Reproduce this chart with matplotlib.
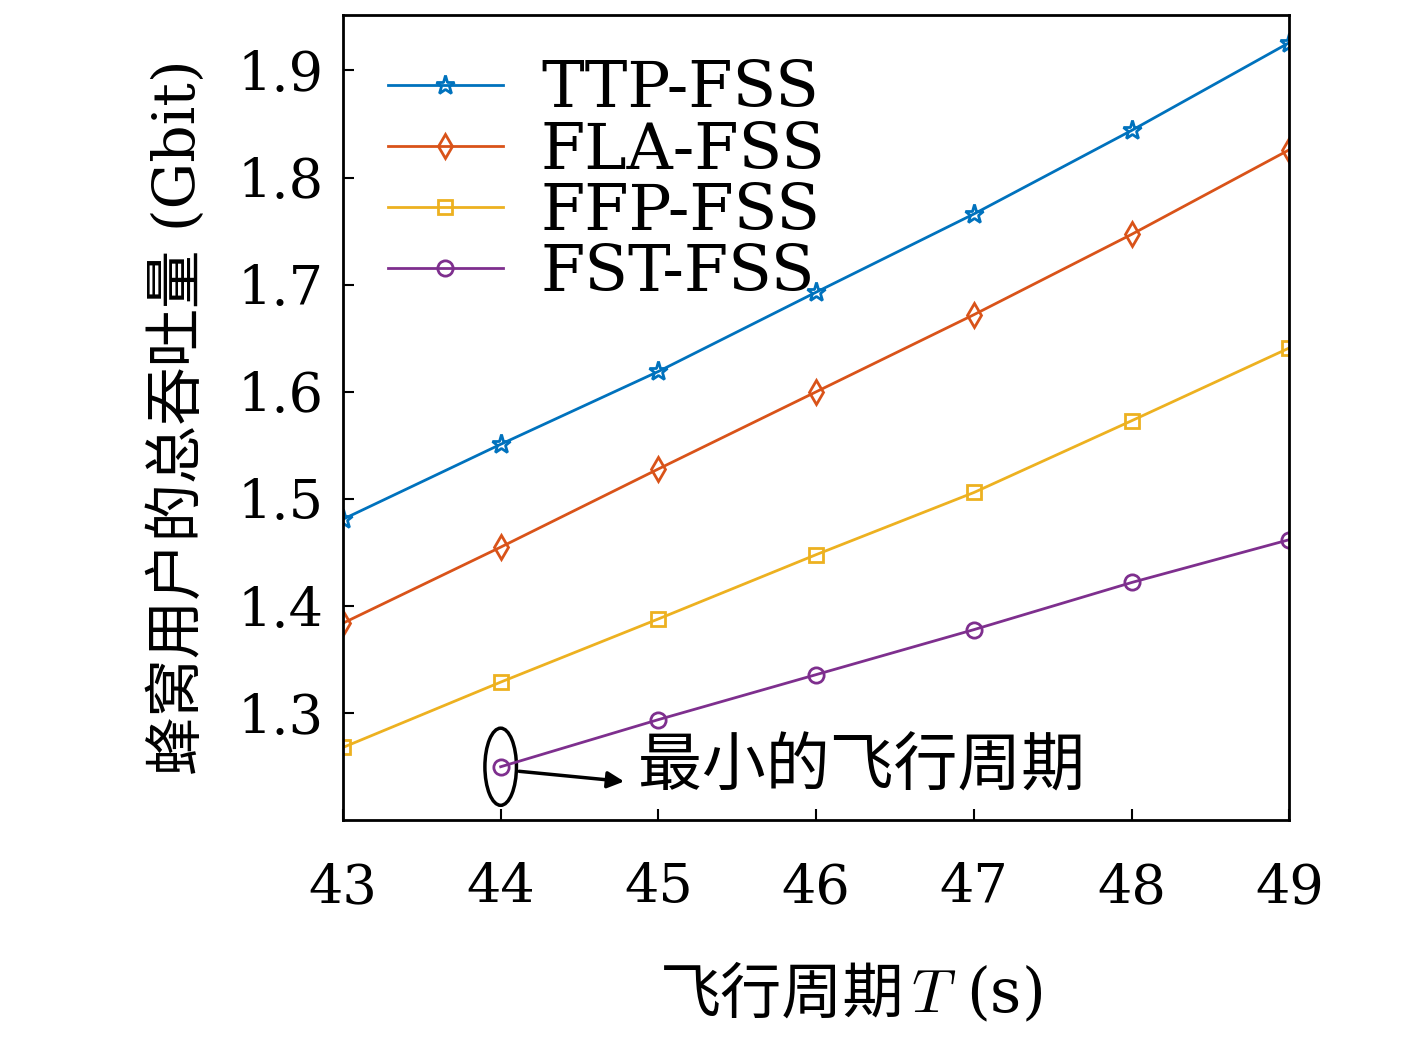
import matplotlib
matplotlib.use("Agg")
import matplotlib.pyplot as plt
from matplotlib.patches import Ellipse

plt.rcParams['font.family'] = ['DejaVu Serif', 'Noto Sans CJK SC']
plt.rcParams['mathtext.fontset'] = 'cm'

periods = [43, 44, 45, 46, 47, 48, 49]
ttp = [1.481, 1.551, 1.619, 1.693, 1.766, 1.844, 1.926]
fla = [1.384, 1.455, 1.528, 1.600, 1.672, 1.747, 1.826]
ffp = [1.268, 1.329, 1.388, 1.448, 1.506, 1.573, 1.641]
fst_periods = [44, 45, 46, 47, 48, 49]
fst = [1.250, 1.294, 1.336, 1.378, 1.422, 1.462]

fig = plt.figure(figsize=(14.17, 10.49), dpi=100)
ax = fig.add_axes([0.242, 0.218, 0.668, 0.768])

lw = 2
kw = dict(lw=lw, mfc='none', mew=2)
ax.plot(periods, ttp, '-*', color='#0072BD', ms=14, label='TTP-FSS', **kw)
ax.plot(periods, fla, '-d', color='#D95319', ms=12, label='FLA-FSS', **kw)
ax.plot(periods, ffp, '-s', color='#EDB120', ms=10, label='FFP-FSS', **kw)
ax.plot(fst_periods, fst, '-o', color='#7E2F8E', ms=11, label='FST-FSS', **kw)

ax.set_xlim(43, 49)
ax.set_ylim(1.2, 1.952)
ax.set_xticks(periods)
ax.set_yticks([1.3, 1.4, 1.5, 1.6, 1.7, 1.8, 1.9])
ax.tick_params(labelsize=39, direction='in', length=8, width=1.5)
ax.tick_params(axis='x', pad=30)
ax.tick_params(axis='y', pad=14)
for s in ax.spines.values():
    s.set_linewidth(2)

ax.add_patch(Ellipse((44, 1.25), 0.2, 0.072, fill=False, lw=2.5, color='black'))
ax.annotate('', xy=(44.8, 1.236), xytext=(44.1, 1.246),
            arrowprops=dict(arrowstyle='-|>', lw=2.5, color='black', mutation_scale=25))
ax.text(44.87, 1.25, '最小的飞行周期', fontsize=46, family=['Noto Sans CJK SC'], va='center')

ax.text(0.593, -0.217, '飞行周期', transform=ax.transAxes, fontsize=44,
        family=['Noto Sans CJK SC'], ha='right', va='center')
ax.text(0.6, -0.217, '$T$ (s)', transform=ax.transAxes, fontsize=44,
        ha='left', va='center')
ax.set_ylabel('蜂窝用户的总吞吐量 (Gbit)', fontsize=42, labelpad=22)

ax.legend(loc='upper left', fontsize=46, frameon=False, handlelength=1.8,
          handletextpad=0.6, labelspacing=0.0, borderaxespad=0.3)

fig.savefig('out.png', dpi=100)
